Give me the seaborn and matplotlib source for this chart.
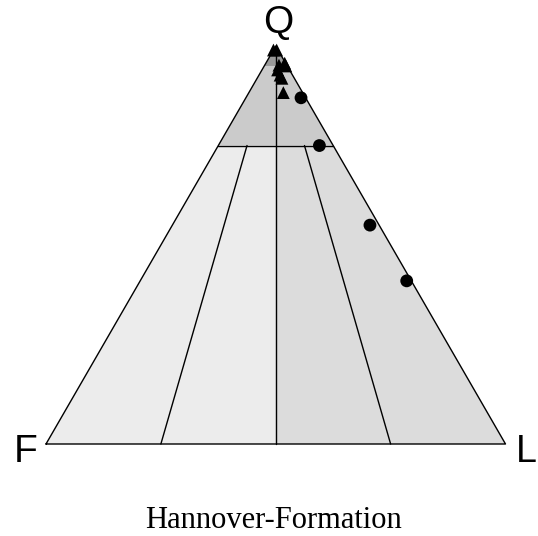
import numpy as np
import pandas as pd
import matplotlib
matplotlib.use("Agg")
import matplotlib.pyplot as plt
import seaborn as sns

sns.set_theme(style="white")
plt.rcParams["font.family"] = ["Liberation Sans", "DejaVu Sans"]
plt.rcParams["text.color"] = "black"

# Sample compositions in percent: quartz (Q), feldspar (F), lithic fragments (L)
circle_Q = [87.0, 75.0, 55.0, 41.0]
circle_F = [1.0, 3.0, 2.0, 1.0]
circle_L = [12.0, 22.0, 43.0, 58.0]

triangle_Q = [99.0, 99.0, 95.2, 95.7, 95.0, 94.0, 92.7, 91.9, 88.3]
triangle_F = [1.0, 0.3, 1.7, 0.2, 0.3, 2.6, 2.7, 2.7, 4.2]
triangle_L = [0.0, 0.7, 3.1, 4.1, 4.7, 3.4, 4.6, 5.4, 7.5]

corner_labels = ["Q", "F", "L"]
title = "Hannover-Formation"

# Field boundaries of the classification
q_outer = 75.0      # lower limit of the quartz-rich field
q_inner = 95.0      # lower limit of the quartz-arenite field
fl_ratios = [0.25, 0.5, 0.75]   # L / (F + L) split lines


def to_xy(q, f, l):
    q = np.asarray(q, float); f = np.asarray(f, float); l = np.asarray(l, float)
    s = q + f + l
    q, l = q / s, l / s
    return l + q / 2.0, q * np.sqrt(3) / 2.0


def fl_point(q, r):
    """Point with quartz fraction q (percent) and L/(F+L) ratio r."""
    rest = 100.0 - q
    return to_xy(q, rest * (1 - r), rest * r)


fig = plt.figure(figsize=(5.38, 5.36), dpi=100)
ax = fig.add_axes([0, 0, 1, 1])
ax.set_xlim(-46 / 459.5, (538 - 46) / 459.5)
ax.set_ylim(-92 / 459.5, 444 / 459.5)
ax.set_aspect("equal")
ax.axis("off")

# Filled fields
left_low = [fl_point(0, 0), fl_point(0, 0.5), fl_point(q_outer, 0.5), fl_point(q_outer, 0)]
right_low = [fl_point(0, 0.5), fl_point(0, 1), fl_point(q_outer, 1), fl_point(q_outer, 0.5)]
q_field = [fl_point(q_outer, 0), fl_point(q_outer, 1), to_xy(100, 0, 0)]
q_top = [fl_point(q_inner, 0), fl_point(q_inner, 1), to_xy(100, 0, 0)]
for poly, col in [(left_low, "#ececec"), (right_low, "#dcdcdc"),
                  (q_field, "#cbcbcb"), (q_top, "#9a9a9a")]:
    xs, ys = zip(*poly)
    ax.fill(xs, ys, color=col, lw=0, zorder=1)

lw = 1.0
# Outline
xs, ys = to_xy([0, 0, 100, 0], [100, 0, 0, 100], [0, 100, 0, 0])
ax.plot(xs, ys, color="black", lw=lw, zorder=2)
# Q = 75 % line
(x0, y0), (x1, y1) = fl_point(q_outer, 0), fl_point(q_outer, 1)
ax.plot([x0, x1], [y0, y1], color="black", lw=lw, zorder=2)
# F:L split lines
for r in fl_ratios:
    top_q = 100.0 if r == 0.5 else q_outer
    (x0, y0), (x1, y1) = fl_point(0, r), fl_point(top_q, r)
    ax.plot([x0, x1], [y0, y1], color="black", lw=lw, zorder=2)

# Samples
cx, cy = to_xy(circle_Q, circle_F, circle_L)
tx, ty = to_xy(triangle_Q, triangle_F, triangle_L)
df = pd.DataFrame({
    "x": np.concatenate([cx, tx]),
    "y": np.concatenate([cy, ty]),
    "group": ["a"] * len(cx) + ["b"] * len(tx),
})
sns.scatterplot(data=df, x="x", y="y", style="group", markers={"a": "o", "b": "^"},
                color="black", s=85, edgecolor="black", linewidth=0,
                legend=False, ax=ax, zorder=3)

# Corner labels
qx, qy = to_xy(100, 0, 0)
ax.text(qx + 0.005, qy + 0.011, corner_labels[0], ha="center", va="bottom", fontsize=28)
fx, fy = to_xy(0, 100, 0)
ax.text(fx - 0.045, fy - 0.018, corner_labels[1], ha="center", va="center", fontsize=28)
lx, ly = to_xy(0, 0, 100)
ax.text(lx + 0.045, ly - 0.018, corner_labels[2], ha="center", va="center", fontsize=27)

fig.text(273 / 538, 1 - 521 / 536, title, ha="center", va="center",
         fontsize=22, family=["Liberation Serif", "DejaVu Serif"])

fig.savefig("out.png", dpi=100, facecolor="white")
